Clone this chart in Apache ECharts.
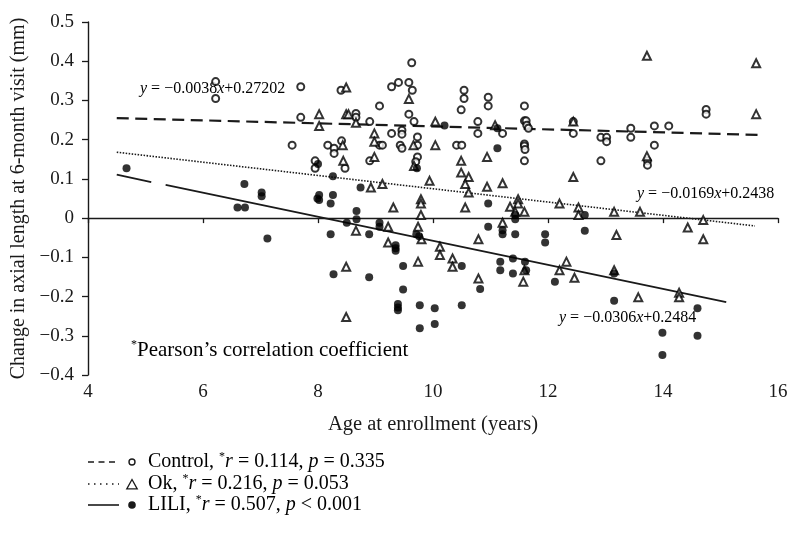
<!DOCTYPE html>
<html>
<head>
<meta charset="utf-8">
<script src="https://cdn.jsdelivr.net/npm/echarts@6/dist/echarts.min.js"></script>
<style>
  html, body { margin: 0; padding: 0; background: #fff; }
  #main { width: 791px; height: 539px; }
</style>
</head>
<body>
<div id="main"></div>
<script>
// values: [age, change in axial length]
var controlPts = [
  [6.22,0.348],[6.22,0.305],[7.70,0.335],[7.70,0.257],[7.55,0.186],[7.95,0.146],[7.95,0.127],
  [9.63,0.396],[9.28,0.335],[9.40,0.346],[9.58,0.346],[9.64,0.326],[8.40,0.326],[9.07,0.286],
  [10.54,0.326],[10.54,0.305],[10.49,0.276],[8.66,0.267],[8.66,0.257],[8.90,0.246],[9.58,0.265],
  [9.67,0.246],[10.78,0.246],[10.78,0.216],[9.07,0.186],[9.12,0.186],[9.28,0.216],[9.46,0.224],
  [9.46,0.214],[9.43,0.186],[9.46,0.178],[9.73,0.207],[9.73,0.186],[10.41,0.186],[10.50,0.186],
  [8.17,0.186],[8.28,0.178],[8.28,0.165],[8.41,0.197],[8.47,0.127],[8.90,0.146],[9.73,0.156],
  [9.70,0.144],[10.96,0.308],[10.96,0.286],[11.21,0.216],[11.59,0.286],[11.59,0.248],[11.62,0.248],
  [11.63,0.237],[11.66,0.229],[11.59,0.189],[11.59,0.184],[11.60,0.175],[11.59,0.146],
  [12.44,0.246],[12.44,0.216],[12.92,0.206],[13.02,0.206],[13.02,0.195],[12.92,0.146],
  [13.44,0.229],[13.44,0.206],[14.75,0.277],[14.75,0.265],[13.85,0.235],[14.10,0.235],
  [13.85,0.186],[13.73,0.146],[13.73,0.135]
];
var okPts = [
  [9.58,0.304],[8.49,0.333],[8.02,0.265],[8.02,0.235],[8.49,0.265],[8.53,0.265],[8.66,0.243],
  [10.04,0.246],[8.98,0.216],[8.98,0.195],[9.66,0.186],[10.04,0.186],[8.43,0.186],[8.44,0.146],
  [8.98,0.156],[9.67,0.133],[10.49,0.146],[10.49,0.116],[10.62,0.105],[10.56,0.087],[9.94,0.095],
  [8.92,0.078],[9.12,0.087],[10.62,0.065],[10.56,0.027],[9.31,0.027],[9.79,0.048],[9.79,0.037],
  [9.79,0.008],[8.66,-0.032],[9.22,-0.022],[9.74,-0.022],[9.80,-0.054],[9.22,-0.062],[10.12,-0.073],
  [10.12,-0.094],[10.34,-0.103],[10.34,-0.124],[9.74,-0.111],[8.49,-0.124],[8.49,-0.252],
  [10.79,-0.054],[10.79,-0.154],[11.08,0.237],[10.94,0.156],[10.94,0.080],[11.21,0.089],
  [12.44,0.246],[12.44,0.105],[11.34,0.029],[11.48,0.048],[11.48,0.037],[11.43,0.016],[11.59,0.016],
  [11.21,-0.012],[12.20,0.037],[12.53,0.027],[12.53,0.008],[13.15,0.016],[13.19,-0.043],
  [11.59,-0.133],[11.57,-0.162],[12.20,-0.133],[12.32,-0.111],[12.46,-0.152],[13.15,-0.133],
  [13.57,-0.202],[13.72,0.414],[15.62,0.395],[15.62,0.265],[13.72,0.158],[13.60,0.016],
  [14.70,-0.005],[14.43,-0.024],[14.70,-0.054],[14.28,-0.190],[14.28,-0.202]
];
var liliPts = [
  [4.67,0.127],[6.72,0.087],[7.02,0.065],[7.02,0.056],[6.60,0.027],[6.73,0.027],[7.12,-0.052],
  [10.20,0.236],[8.00,0.138],[9.72,0.127],[8.26,0.107],[8.74,0.078],[8.02,0.059],[7.99,0.050],
  [8.02,0.046],[8.26,0.059],[8.22,0.037],[8.67,0.018],[8.67,-0.003],[8.50,-0.012],[8.22,-0.041],
  [8.89,-0.041],[9.07,-0.012],[9.07,-0.022],[9.71,-0.041],[9.76,-0.046],[9.35,-0.069],[9.35,-0.077],
  [9.35,-0.083],[10.50,-0.122],[9.48,-0.122],[8.27,-0.143],[8.89,-0.151],[9.48,-0.182],
  [9.39,-0.219],[9.39,-0.228],[9.39,-0.235],[9.77,-0.222],[10.03,-0.230],[10.50,-0.222],
  [9.77,-0.281],[10.03,-0.270],[10.82,-0.181],[11.12,0.229],[11.12,0.178],[10.96,0.037],
  [11.43,0.008],[11.43,-0.003],[10.96,-0.022],[11.21,-0.031],[11.21,-0.041],[11.43,-0.041],
  [11.95,-0.041],[11.95,-0.062],[12.64,0.008],[12.64,-0.032],[11.17,-0.111],[11.17,-0.133],
  [11.39,-0.103],[11.60,-0.111],[11.39,-0.141],[11.62,-0.133],[12.12,-0.162],[13.15,-0.141],
  [13.15,-0.211],[14.60,-0.230],[13.99,-0.292],[14.60,-0.300],[13.99,-0.349]
];
// fitted line end points as drawn
var controlFit = [[4.5,0.255],[15.7,0.212]];
var okFit = [[4.5,0.168],[15.6,-0.020]];
var liliFit = [[4.5,0.111],[5.1,0.092],'-',[5.35,0.085],[15.1,-0.214]];

var xTicks = { min: 4, max: 16, interval: 2 };
var yTicks = { min: -0.4, max: 0.5, interval: 0.1 };

var ink = '#1a1a1a';
var serif = '"Liberation Serif", "DejaVu Serif", serif';
var chart = echarts.init(document.getElementById('main'), null, { renderer: 'canvas' });

function fmtY(v) {
  if (Math.abs(v) < 1e-9) return '0';
  return (v < 0 ? '\u2212' : '') + Math.abs(v).toFixed(1);
}

var eqRich = {
  i: { fontFamily: serif, fontStyle: 'italic', fontSize: 16, color: ink },
  n: { fontFamily: serif, fontSize: 16, color: ink }
};
function bigRich(size) {
  return {
    n: { fontFamily: serif, fontSize: size, color: ink, lineHeight: 22 },
    i: { fontFamily: serif, fontSize: size, fontStyle: 'italic', color: ink, lineHeight: 22 },
    s: { fontFamily: serif, fontSize: 12, color: ink, verticalAlign: 'top', lineHeight: 22 }
  };
}

function tri(cx, cy, r) {
  return [[cx, cy - r], [cx + r * 0.95, cy + r * 0.7], [cx - r * 0.95, cy + r * 0.7]];
}

var legRows = [
  { y: 462, dash: [6, 4.5], mark: 'o', txt: '{n|Control, }{s|*}{i|r}{n| = 0.114, }{i|p}{n| = 0.335}' },
  { y: 484, dash: [1.5, 4.5], mark: 't', txt: '{n|Ok, }{s|*}{i|r}{n| = 0.216, }{i|p}{n| = 0.053}' },
  { y: 505, dash: null, mark: 'f', txt: '{n|LILI, }{s|*}{i|r}{n| = 0.507, }{i|p}{n| < 0.001}' }
];
var graphics = [];
legRows.forEach(function (r) {
  graphics.push({ type: 'line', shape: { x1: 88, y1: r.y, x2: 119, y2: r.y },
    style: { stroke: ink, lineWidth: r.dash ? 1.3 : 1.6, lineDash: r.dash } });
  if (r.mark === 'o') {
    graphics.push({ type: 'circle', shape: { cx: 132, cy: r.y, r: 3 }, style: { fill: '#fff', stroke: ink, lineWidth: 1.4 } });
  } else if (r.mark === 't') {
    graphics.push({ type: 'polygon', shape: { points: tri(132, r.y + 1, 5.5) }, style: { fill: '#fff', stroke: ink, lineWidth: 1.3 } });
  } else {
    graphics.push({ type: 'circle', shape: { cx: 132, cy: r.y, r: 3.8 }, style: { fill: ink } });
  }
  graphics.push({ type: 'text', x: 148, y: r.y, style: { text: r.txt, rich: bigRich(20), verticalAlign: 'middle', align: 'left' } });
});

// regression equations and footnote
graphics.push({ type: 'text', x: 140, y: 89, style: { text: '{i|y}{n| = \u22120.0038}{i|x}{n|+0.27202}', rich: eqRich, verticalAlign: 'middle' } });
graphics.push({ type: 'text', x: 637, y: 194, style: { text: '{i|y}{n| = \u22120.0169}{i|x}{n|+0.2438}', rich: eqRich, verticalAlign: 'middle' } });
graphics.push({ type: 'text', x: 559, y: 318, style: { text: '{i|y}{n| = \u22120.0306}{i|x}{n|+0.2484}', rich: eqRich, verticalAlign: 'middle' } });
graphics.push({ type: 'text', x: 131, y: 350, style: { text: '{s|*}{n|Pearson\u2019s correlation coefficient}', rich: bigRich(21), verticalAlign: 'middle' } });

chart.setOption({
  animation: false,
  backgroundColor: '#fff',
  grid: { left: 88, right: 13, top: 22, bottom: 164 },
  xAxis: {
    type: 'value', min: xTicks.min, max: xTicks.max, interval: xTicks.interval,
    name: 'Age at enrollment (years)', nameLocation: 'middle', nameGap: 39,
    nameTextStyle: { fontFamily: serif, fontSize: 20.5, color: ink },
    axisLine: { lineStyle: { color: ink, width: 1.4 } },
    axisTick: { length: 5, lineStyle: { color: ink, width: 1.3 } },
    axisLabel: { fontFamily: serif, fontSize: 19, color: ink, margin: 8 },
    splitLine: { show: false }
  },
  yAxis: {
    type: 'value', min: yTicks.min, max: yTicks.max, interval: yTicks.interval,
    name: 'Change in axial length at 6-month visit (mm)', nameLocation: 'middle', nameGap: 59,
    nameTextStyle: { fontFamily: serif, fontSize: 20, color: ink },
    axisLine: { show: true, lineStyle: { color: ink, width: 1.4 } },
    axisTick: { show: true, length: 6, lineStyle: { color: ink, width: 1.3 } },
    axisLabel: { fontFamily: serif, fontSize: 19, color: ink, margin: 14, formatter: fmtY },
    splitLine: { show: false }
  },
  series: [
    { name: 'Control fit', type: 'line', data: controlFit, symbol: 'none', silent: true, z: 1,
      lineStyle: { color: ink, width: 2.2, type: [12, 6.5] } },
    { name: 'Ok fit', type: 'line', data: okFit, symbol: 'none', silent: true, z: 1,
      lineStyle: { color: ink, width: 1.6, type: [1.5, 1.5] } },
    { name: 'LILI fit', type: 'line', data: liliFit, symbol: 'none', silent: true, z: 1, connectNulls: false,
      lineStyle: { color: ink, width: 1.8, type: 'solid' } },
    { name: 'Control', type: 'scatter', data: controlPts, symbol: 'circle', symbolSize: 7, z: 3,
      itemStyle: { color: '#fff', borderColor: '#000', borderWidth: 2 } },
    { name: 'Ok', type: 'scatter', data: okPts, symbol: 'triangle', symbolSize: 8, z: 3,
      itemStyle: { color: '#fff', borderColor: '#000', borderWidth: 2 } },
    { name: 'LILI', type: 'scatter', data: liliPts, symbol: 'circle', symbolSize: 8, z: 4,
      itemStyle: { color: '#000' } }
  ],
  graphic: graphics
});
</script>
</body>
</html>
